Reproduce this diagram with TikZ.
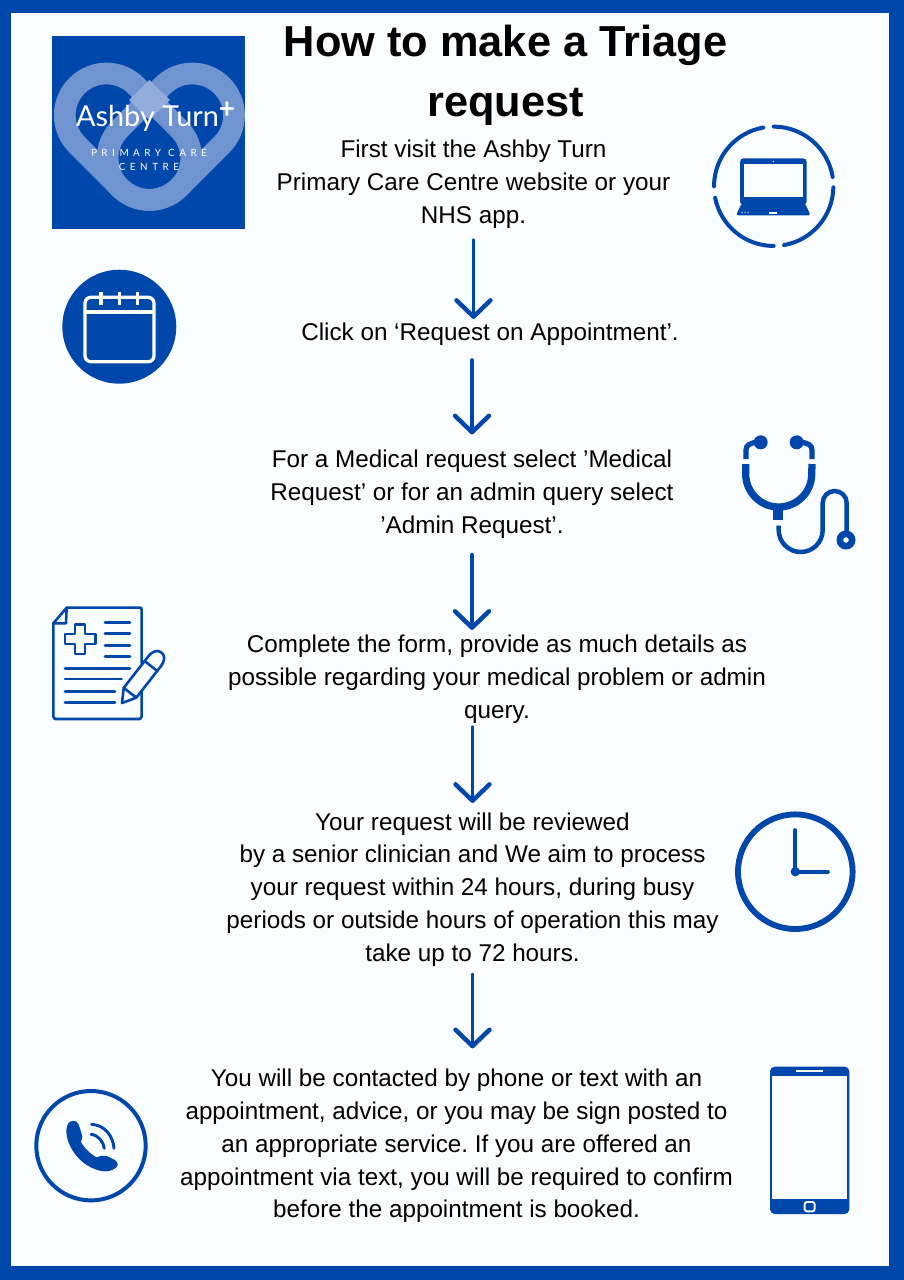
\documentclass[tikz,border=0pt]{standalone}
\usepackage{fontspec}
\setmainfont{Liberation Sans}
\newfontfamily\logofont{Lato}
\usetikzlibrary{arrows.meta}
\usetikzlibrary{positioning}
\definecolor{nhsblue}{RGB}{0, 71, 171}
\definecolor{paper}{RGB}{250, 253, 255}
\definecolor{ringblue}{RGB}{112, 148, 208}
\definecolor{ringlight}{RGB}{146, 173, 220}
\tikzset{
    steptext/.style={align=center, inner sep=0pt, text=black, font=\frenchspacing\fontsize{20.7}{28}\selectfont},
    steparrow/.style={draw=nhsblue, line width=3.4pt, line cap=round, -{Straight Barb[round, length=14pt, width=29pt, line width=3.8pt]}},
    iconline/.style={draw=nhsblue, line width=2.2pt, line cap=round, line join=round},
    logoring/.style={draw=ringblue, line width=.651cm},
}

\begin{document}
\begin{tikzpicture}[x=0.03cm, y=-0.03cm]
    \useasboundingbox (0,0) rectangle (904,1280);
    \fill[nhsblue] (0,0) rectangle (904,1280);
    \fill[paper] (11,13) rectangle (889,1266);

    % logo
    \fill[nhsblue] (52,36) rectangle (245,229);
    \draw[logoring, rounded corners=1.25cm, rotate around={-45:(128,136.7)}] (55.9,95) rectangle (200.1,178.4);
    \draw[logoring, rounded corners=1.25cm, rotate around={45:(170.8,136.7)}] (98.7,95) rectangle (242.9,178.4);
    \fill[ringlight] (149.3,80) -- (170,100) -- (149.3,120) -- (129,100) -- cycle;
    \node[text=white, inner sep=0pt, font=\logofont\fontsize{24.6}{25}\selectfont] (logoname) at (147.5,118) {Ashby Turn};
    \node[text=white, inner sep=0pt, font=\bfseries\logofont\fontsize{24}{24}\selectfont] (logoplus) at (227,110) {+};
    \node[text=white, inner sep=0pt, align=center, font=\logofont\fontsize{8.5}{12}\selectfont\addfontfeature{LetterSpace=45}] (logosub) at (149,159.5) {PRIMARY CARE\\CENTRE};

    % title and steps
    \node[align=center, inner sep=0pt, font=\bfseries\fontsize{37}{51}\selectfont] (title) at (505.5,75.5) {How to make a Triage\\request};
    \node[steptext] (stepa) at (473.5,184) {First visit the Ashby Turn\\Primary Care Centre website or your\\NHS app.};
    \node[steptext] (stepb) at (490,334) {Click on ‘Request on Appointment’.};
    \node[steptext] (stepc) at (472,494) {For a Medical request select ’Medical\\Request’ or for an admin query select\\’Admin Request’.};
    \node[steptext] (stepd) at (497,679.5) {Complete the form, provide as much details as\\possible regarding your medical problem or admin\\query.};
    \node[steptext] (stepe) at (472.5,889.5) {Your request will be reviewed\\by a senior clinician and We aim to process\\your request within 24 hours, during busy\\periods or outside hours of operation this may\\take up to 72 hours.};
    \node[steptext] (stepf) at (456.5,1146) {You will be contacted by phone or text with an\\appointment, advice, or you may be sign posted to\\an appropriate service. If you are offered an\\appointment via text, you will be required to confirm\\before the appointment is booked.};

    \draw[steparrow, shorten <=10.3pt, shorten >=3pt] (stepa.south) -- (stepa.south |- stepb.north);
    \draw[steparrow, shorten <=12.5pt, shorten >=13pt] (stepc.north |- stepb.south) -- (stepc.north);
    \draw[steparrow, shorten <=14pt, shorten >=4.5pt] (stepc.south) -- (stepc.south |- stepd.north);
    \draw[steparrow, shorten <=3pt, shorten >=8pt] (stepe.north |- stepd.south) -- (stepe.north);
    \draw[steparrow, shorten <=7pt, shorten >=17.5pt] (stepe.south) -- (stepe.south |- stepf.north);

    % laptop
    \foreach \a/\b in {9/90, 100/180, 191/270, 280/359}
        \draw[nhsblue, line width=3.4pt, line cap=round] ([shift={(\a:1.79cm)}]773.7,186.3) arc[start angle=\a, end angle=\b, radius=1.79cm];
    \begin{scope}[shift={(690,110)}, scale=1/3]
        \fill[nhsblue, rounded corners=3pt] (150,145) rectangle (350,285);
        \fill[paper] (162,163) rectangle (338,260);
        \fill[paper] (250,155) circle (2);
        \fill[nhsblue, rounded corners=2pt] (155,280) -- (345,280) -- (362,316) -- (138,316) -- cycle;
        \fill[paper] (237,305) rectangle (262,311);
        \foreach \d in {156,165,174} \fill[paper] (\d,308) circle (2);
    \end{scope}

    % calendar
    \fill[nhsblue] (119.3,326.7) circle (57);
    \draw[white, line width=2.8pt, rounded corners=5pt] (85,297.3) rectangle (154,361.7);
    \draw[white, line width=2.8pt] (85,312) -- (154,312);
    \foreach \d in {101,119.3,137.3} \draw[white, line width=2.8pt] (\d,291.7) -- (\d,305);

    % stethoscope
    \fill[nhsblue] (760.7,442.3) circle (7);
    \fill[nhsblue] (796.7,442.3) circle (7);
    \draw[nhsblue, line width=4.4pt] (746,459) -- (746,450) .. controls (746,445) and (750,443) .. (758,442);
    \draw[nhsblue, line width=4.4pt] (812,459) -- (812,450) .. controls (812,445) and (808,443) .. (800,442);
    \draw[nhsblue, line width=6.2pt] (745.7,464) -- (745.7,474) arc[start angle=180, end angle=360, radius=.99cm] -- (812,464);
    \fill[nhsblue] (773.3,505) rectangle (783.3,520);
    \draw[nhsblue, line width=3.8pt] (778.7,525.5) -- (778.7,530) arc[start angle=180, end angle=360, radius=.66cm] -- (822.7,503) arc[start angle=180, end angle=0, radius=.36cm] -- (846.7,532);
    \fill[nhsblue] (846,540) circle (9.5);
    \fill[paper] (846,540) circle (2.8);

    % form with pencil
    \begin{scope}[shift={(40,595)}, scale=1/3]
        \draw[iconline] (305,205) -- (305,45) -- (303,38) -- (80,38) -- (40,85) -- (40,365) -- (45,372) -- (300,372) -- (305,365) -- (305,275);
        \draw[iconline] (80,38) -- (78,85) -- (40,85);
        \draw[iconline] (105,88) -- (135,88) -- (135,117) -- (166,117) -- (166,147) -- (135,147) -- (135,177) -- (105,177) -- (105,147) -- (75,147) -- (75,117) -- (105,117) -- cycle;
        \foreach \h in {83,115,152,184} \draw[iconline] (195,\h) -- (270,\h);
        \foreach \h/\e in {221/270, 252/245, 290/225, 322/225} \draw[iconline] (75,\h) -- (\e,\h);
    \end{scope}
    \begin{scope}[shift={(122,703)}, rotate=52]
        \draw[iconline, fill=paper] (0,0) -- (13,-8) -- (52,-8) .. controls (60,-8) and (64,-5) .. (64,0) .. controls (64,5) and (60,8) .. (52,8) -- (13,8) -- cycle;
        \draw[iconline] (13,-8) -- (13,8);
        \draw[iconline] (47,-8) -- (47,8);
    \end{scope}

    % clock
    \draw[nhsblue, line width=5pt] (795.3,871.7) circle (57.3);
    \draw[nhsblue, line width=3.1pt, line cap=round] (795.3,830) -- (795.3,871.7) -- (828,871.7);
    \fill[nhsblue] (795.3,871.7) circle (4.7);

    % handset
    \draw[nhsblue, line width=3.4pt] (91,1145.7) circle (54.7);
    \begin{scope}[shift={(25,1080)}, scale=1/3]
        \fill[nhsblue] (135,125) .. controls (150,118) and (160,125) .. (165,145) -- (172,170) .. controls (172,176) and (168,180) .. (168,186) .. controls (175,200) and (195,222) .. (215,232) .. controls (222,228) and (232,226) .. (245,228) -- (270,240) .. controls (282,250) and (280,260) .. (270,265) .. controls (250,280) and (220,275) .. (190,258) .. controls (150,235) and (125,190) .. (124,155) .. controls (124,140) and (128,130) .. (135,125) -- cycle;
        \draw[nhsblue, line width=2.5pt, line cap=round] (198,163) .. controls (220,165) and (235,185) .. (238,205);
        \draw[nhsblue, line width=2.5pt, line cap=round] (200,133) .. controls (240,135) and (265,170) .. (267,205);
    \end{scope}

    % mobile
    \begin{scope}[shift={(750,1055)}, scale=1/3]
        \fill[nhsblue, rounded corners=4pt] (60,35) rectangle (298,477);
        \fill[paper] (66,64) rectangle (292,432);
        \draw[paper, line width=1.6pt] (138,48) -- (220,48);
        \draw[paper, line width=1.6pt, rounded corners=2pt] (164,441) rectangle (194,469);
    \end{scope}
\end{tikzpicture}
\end{document}
